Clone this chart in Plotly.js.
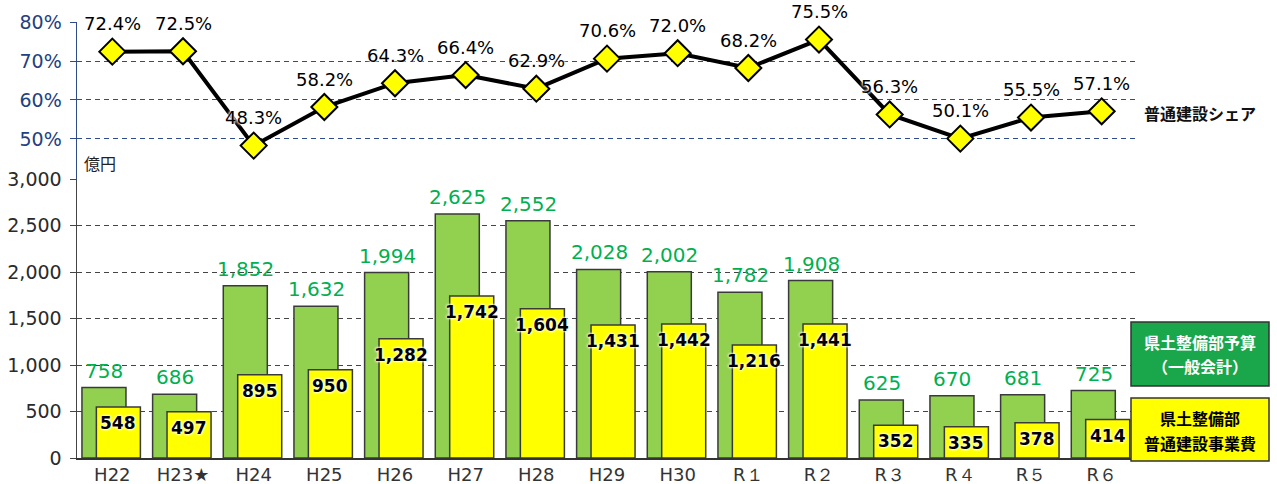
<!DOCTYPE html>
<html>
<head>
<meta charset="utf-8">
<script src="https://cdn.plot.ly/plotly-3.0.1.min.js"></script>
<style>html,body{margin:0;padding:0;background:#fff;}#chart{width:1277px;height:484px;}</style>
</head>
<body>
<div id="chart"></div>
<script>
const years = ['H22','H23★','H24','H25','H26','H27','H28','H29','H30','R１','R２','R３','R４','R５','R６'];
const budget = [758,686,1852,1632,1994,2625,2552,2028,2002,1782,1908,625,670,681,725];
const works = [548,497,895,950,1282,1742,1604,1431,1442,1216,1441,352,335,378,414];
const share = [72.4,72.5,48.3,58.2,64.3,66.4,62.9,70.6,72.0,68.2,75.5,56.3,50.1,55.5,57.1];
const barTicks = [0,500,1000,1500,2000,2500,3000];
const pctTicks = [50,60,70,80];
const pctTickText = ['50%','60%','70%','80%'];
const legendBudget = ['県土整備部予算','（一般会計）'];
const legendWorks = ['県土整備部','普通建設事業費'];
const legendShare = '普通建設シェア';
const unitLabel = '億円';

const numFont = 'DejaVu Sans, sans-serif';
const tickFont = 'DejaVu Sans, sans-serif';
const jpFont = 'Noto Sans CJK JP, sans-serif';
const fmt = v => v.toLocaleString('en-US');
const halo = '0 0 2px #fff, 0 0 3px #fff, 0 0 3px #fff';

const L = 77, R = 1137, T = 22, B = 458;
const PW = R - L, PH = B - T;
const px = x => (x - L) / PW;
const py = y => (B - y) / PH;

const traces = [
  {type:'bar', x:years, y:budget, xaxis:'x', yaxis:'y', offset:-0.43, width:0.623,
   marker:{color:'#92d050', line:{color:'#3a3a3a', width:1.5}}, hoverinfo:'skip', showlegend:false},
  {type:'bar', x:years, y:works, xaxis:'x', yaxis:'y', offset:-0.226, width:0.623,
   marker:{color:'#ffff00', line:{color:'#3a3a3a', width:1.5}}, hoverinfo:'skip', showlegend:false},
  {type:'scatter', mode:'lines+markers', x:years, y:share, xaxis:'x2', yaxis:'y2',
   line:{color:'#000', width:4},
   marker:{symbol:'diamond', size:20, color:'#ffff00', line:{color:'#000', width:2}},
   cliponaxis:false, hoverinfo:'skip', showlegend:false}
];

const annotations = [];
years.forEach((c,i) => {
  annotations.push({xref:'x', yref:'y', x:c, y:budget[i], text:fmt(budget[i]), showarrow:false,
    xanchor:'center', yanchor:'middle', xshift:-8, yshift:17,
    font:{family:numFont, size:20, color:'#00b050'}});
  annotations.push({xref:'x', yref:'y', x:c, y:works[i], text:'<b>'+fmt(works[i])+'</b>', showarrow:false,
    xanchor:'center', yanchor:'middle', xshift:6, yshift:-16,
    font:{family:numFont, size:17, color:'#000', shadow:halo}});
  annotations.push({xref:'x2', yref:'y2', x:c, y:share[i], text:share[i].toFixed(1)+'%', showarrow:false,
    xanchor:'center', yanchor:'middle', yshift:28,
    font:{family:numFont, size:18, color:'#000', shadow:halo}});
});
annotations.push({xref:'paper', yref:'paper', x:px(82), y:py(163), xanchor:'left', yanchor:'middle', showarrow:false,
  text:unitLabel, font:{family:jpFont, size:16, color:'#222'}});
annotations.push({xref:'paper', yref:'paper', x:px(1200), y:py(113), xanchor:'center', yanchor:'middle', showarrow:false,
  text:'<b>'+legendShare+'</b>', font:{family:jpFont, size:16, color:'#111'}});
annotations.push({xref:'paper', yref:'paper', x:px(1200), y:py(342), xanchor:'center', yanchor:'middle', showarrow:false,
  text:'<b>'+legendBudget[0]+'</b>', font:{family:jpFont, size:16, color:'#fff'}});
annotations.push({xref:'paper', yref:'paper', x:px(1200), y:py(366), xanchor:'center', yanchor:'middle', showarrow:false,
  text:'<b>'+legendBudget[1]+'</b>', font:{family:jpFont, size:16, color:'#fff'}});
annotations.push({xref:'paper', yref:'paper', x:px(1200), y:py(418), xanchor:'center', yanchor:'middle', showarrow:false,
  text:'<b>'+legendWorks[0]+'</b>', font:{family:jpFont, size:16, color:'#000'}});
annotations.push({xref:'paper', yref:'paper', x:px(1200), y:py(443), xanchor:'center', yanchor:'middle', showarrow:false,
  text:'<b>'+legendWorks[1]+'</b>', font:{family:jpFont, size:16, color:'#000'}});

const shapes = [
  {type:'rect', xref:'paper', yref:'paper', x0:px(1131), x1:px(1269), y0:py(386), y1:py(322),
   fillcolor:'#1aa64b', line:{color:'#333', width:1.5}},
  {type:'rect', xref:'paper', yref:'paper', x0:px(1131), x1:px(1269), y0:py(461), y1:py(398),
   fillcolor:'#ffff00', line:{color:'#333', width:1.5}}
];

const layout = {
  width:1277, height:484,
  margin:{l:L, r:1277-R, t:T, b:484-B},
  paper_bgcolor:'#fff', plot_bgcolor:'rgba(0,0,0,0)',
  barmode:'overlay',
  showlegend:false,
  xaxis:{domain:[0,1], anchor:'y', type:'category', range:[-0.5,14.5],
    showline:true, linecolor:'#333', linewidth:1.5, ticks:'', showgrid:false,
    tickfont:{family:tickFont, size:18, color:'#333'}},
  xaxis2:{domain:[0,1], anchor:'y2', type:'category', matches:'x', range:[-0.5,14.5],
    showticklabels:false, showline:false, showgrid:false, ticks:''},
  yaxis:{domain:[0,py(179)], anchor:'x', range:[0,3000], tickvals:barTicks, tickformat:',',
    showline:true, linecolor:'#444', linewidth:1.5, ticks:'outside', ticklen:6, tickcolor:'#444',
    showgrid:true, gridcolor:'#444', gridwidth:1, griddash:'5px,4px', zeroline:false,
    ticklabelstandoff:4,
    tickfont:{family:tickFont, size:19, color:'#2a2a2a'}},
  yaxis2:{domain:[py(179),1], anchor:'x2', range:[39.74,80], tickvals:pctTicks, ticktext:pctTickText,
    showline:true, linecolor:'#2f4b8c', linewidth:1.5, ticks:'outside', ticklen:6, tickcolor:'#2f4b8c',
    showgrid:true, gridcolor:'#2f4b8c', gridwidth:1, griddash:'5px,4px', zeroline:false,
    ticklabelstandoff:4,
    tickfont:{family:tickFont, size:19, color:'#23407f'}},
  annotations:annotations,
  shapes:shapes
};

Plotly.newPlot('chart', traces, layout, {displayModeBar:false, staticPlot:true});
</script>
</body>
</html>
